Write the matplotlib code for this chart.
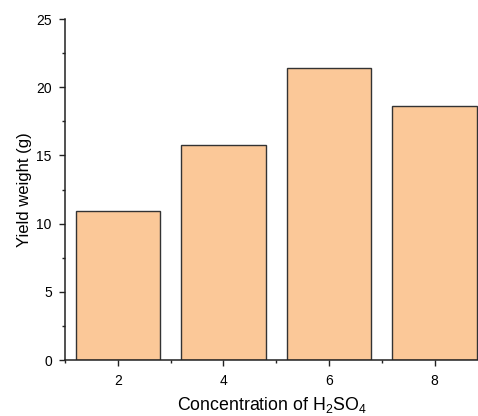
import matplotlib
matplotlib.use("Agg")
import matplotlib.pyplot as plt
from matplotlib.ticker import MultipleLocator

plt.rcParams['font.family'] = ['Liberation Sans', 'DejaVu Sans']
plt.rcParams['mathtext.fontset'] = 'custom'
plt.rcParams['mathtext.rm'] = 'Liberation Sans'
plt.rcParams['mathtext.default'] = 'regular'

concentration = [2, 4, 6, 8]
yield_weight = [10.95, 15.78, 21.38, 18.65]
x_ticks = [2, 4, 6, 8]
y_ticks = [0, 5, 10, 15, 20, 25]

fig = plt.figure(figsize=(4.78, 4.16), dpi=100)
ax = fig.add_axes([0.136, 0.1346, 0.864, 0.8197])

ax.bar(concentration, yield_weight, width=1.6, color='#FBC898',
       edgecolor='#333333', linewidth=1.0, zorder=2)

ax.set_xlim(1, 8.82)
ax.set_ylim(0, 25)
ax.set_xticks(x_ticks)
ax.set_yticks(y_ticks)
ax.xaxis.set_minor_locator(MultipleLocator(1))
ax.yaxis.set_minor_locator(MultipleLocator(2.5))

for s in ['top', 'right']:
    ax.spines[s].set_visible(False)
for s in ['left', 'bottom']:
    ax.spines[s].set_linewidth(1.1)
    ax.spines[s].set_color('#222222')

ax.tick_params(which='major', direction='out', length=4, width=1.0,
               labelsize=10, color='#222222')
ax.tick_params(axis='x', which='major', pad=6)
ax.tick_params(axis='y', which='major', pad=5.5)
ax.tick_params(which='minor', direction='out', length=2, width=1.0,
               color='#222222')
ax.set_xlabel('Concentration of H$_2$SO$_4$', fontsize=12.8, labelpad=5)
ax.set_ylabel('Yield weight (g)', fontsize=12, labelpad=3)

fig.savefig('out.png', dpi=100)
